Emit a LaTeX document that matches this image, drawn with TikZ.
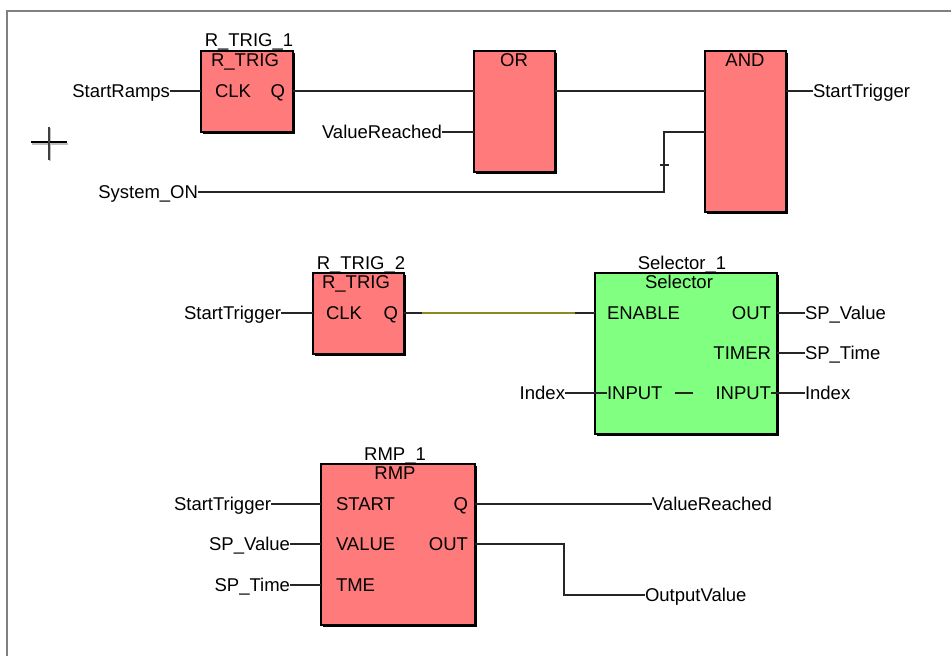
\documentclass[tikz,border=0pt]{standalone}
\usepackage{fontspec}
\setmainfont{Liberation Sans}
\usetikzlibrary{shadows}
\definecolor{fbred}{HTML}{FF7A7A}
\definecolor{fbgreen}{HTML}{80FF80}
\definecolor{frameg}{HTML}{808080}
\definecolor{olivew}{HTML}{8A8A20}
\tikzset{
  fbbase/.style={draw=black,line width=1.6pt,anchor=north west,inner sep=0pt,outer sep=0pt,
    drop shadow={shadow xshift=2.2pt,shadow yshift=-2.2pt,fill=black,opacity=1}},
  fbred/.style={fbbase,fill=fbred},
  fbgreen/.style={fbbase,fill=fbgreen},
  txt/.style={inner sep=0pt,outer sep=0pt,font=\fontsize{18.5}{20}\selectfont,text height=12.5pt,text depth=0pt},
  lblr/.style={txt,anchor=east},
  lbll/.style={txt,anchor=west},
  lblc/.style={txt,anchor=center},
  wire/.style={draw=black!85,line width=1.4pt},
}
\begin{document}
\begin{tikzpicture}[x=1pt,y=-1pt]
\useasboundingbox (0,0) rectangle (951,656);
\fill[white] (0,0) rectangle (951,656);
% window frame
\coordinate (fa) at (7,656); \coordinate (fb) at (7,11); \coordinate (fc) at (951,11);
\draw[frameg,line width=1.6pt] (fa) -- (fb) -- (fc);
% cursor cross
\coordinate (ca) at (31,142); \coordinate (cb) at (67,142);
\coordinate (cc) at (49,127); \coordinate (cd) at (49,160);
\draw[black!25,line width=1.6pt] (32,144) -- (68,144) (50,128) -- (50,161);
\draw[black,line width=2.4pt] (ca) -- (cb);
\draw[black!75,line width=1.6pt] (cc) -- (cd);
% blocks
\node[fbred,minimum width=92pt,minimum height=81pt] (rt1) at (201,51) {};
\node[fbred,minimum width=81pt,minimum height=121pt] (or) at (474,51) {};
\node[fbred,minimum width=81pt,minimum height=161pt] (and) at (705,51) {};
\node[fbred,minimum width=91pt,minimum height=81pt] (rt2) at (313,273) {};
\node[fbgreen,minimum width=182pt,minimum height=161pt] (sel) at (595,273) {};
\node[fbred,minimum width=154pt,minimum height=161pt] (rmp) at (321,464) {};
% instance names
\node[lblc] (n1) at (249,40) {R\_TRIG\_1};
\node[lblc] (n2) at (361,263) {R\_TRIG\_2};
\node[lblc] (n3) at (682,263) {Selector\_1};
\node[lblc] (n4) at (395,454) {RMP\_1};
% type names
\node[lblc] (t1) at (245,60) {R\_TRIG};
\node[lblc] (t2) at (514,60) {OR};
\node[lblc] (t3) at (745,60) {AND};
\node[lblc] (t4) at (356,282) {R\_TRIG};
\node[lblc] (t5) at (679,282) {Selector};
\node[lblc] (t6) at (395,473) {RMP};
% pins
\node[lbll] (clk1) at (215,91) {CLK};
\node[lblr] (q1) at (285,91) {Q};
\node[lbll] (clk2) at (326,313) {CLK};
\node[lblr] (q2) at (398,313) {Q};
\node[lbll] (en) at (607,313) {ENABLE};
\node[lblr] (outs) at (771,313) {OUT};
\node[lblr] (tim) at (771,353) {TIMER};
\node[lbll] (ini) at (607,393) {INPUT};
\node[lblr] (ino) at (771,393) {INPUT};
\node[lbll] (start) at (336,504) {START};
\node[lblr] (qr) at (468,504) {Q};
\node[lbll] (val) at (336,544) {VALUE};
\node[lblr] (outr) at (468,544) {OUT};
\node[lbll] (tme) at (336,585) {TME};
\coordinate (dl) at (675,393); \coordinate (dr) at (693,393);
\draw[wire] (dl) -- (dr);
% variables
\node[lblr] (v1) at (170,91) {StartRamps};
\node[lblr] (v2) at (442,132) {ValueReached};
\node[lblr] (v3) at (198,192) {System\_ON};
\node[lbll] (v4) at (813,91) {StartTrigger};
\node[lblr] (v5) at (281,313) {StartTrigger};
\node[lblr] (v6) at (565,393) {Index};
\node[lbll] (v7) at (805,313) {SP\_Value};
\node[lbll] (v8) at (805,353) {SP\_Time};
\node[lbll] (v9) at (805,393) {Index};
\node[lblr] (v10) at (271,504) {StartTrigger};
\node[lblr] (v11) at (290,544) {SP\_Value};
\node[lblr] (v12) at (290,585) {SP\_Time};
\node[lbll] (v13) at (652,504) {ValueReached};
\node[lbll] (v14) at (645,595) {OutputValue};
% wires, first network
\draw[wire] (v1.east) -- (rt1.west |- v1.east);
\draw[wire] (rt1.east |- q1) -- (or.west |- q1);
\draw[wire] (v2.east) -- (or.west |- v2.east);
\draw[wire] (or.east |- q1) -- (and.west |- q1);
\coordinate (bend) at (664,192);
\coordinate (tl) at (660,165); \coordinate (tr) at (669,165);
\draw[wire] (v3.east) -- (bend) -- (bend |- v2.east) -- (and.west |- v2.east);
\draw[wire] (tl) -- (tr);
\draw[wire] (and.east |- v4.west) -- (v4.west);
% wires, second network
\draw[wire] (v5.east) -- (rt2.west |- v5.east);
\coordinate (ol) at (422,313); \coordinate (or2) at (575,313);
\draw[wire] (rt2.east |- q2) -- (sel.west |- q2);
\draw[olivew,line width=1.4pt] (ol) -- (or2);
\draw[wire] (v6.east) -- (ini.west);
\draw[wire] (sel.east |- v7.west) -- (v7.west);
\draw[wire] (sel.east |- v8.west) -- (v8.west);
\draw[wire] (ino.east) -- (v9.west);
% wires, third network
\draw[wire] (v10.east) -- (rmp.west |- v10.east);
\draw[wire] (v11.east) -- (rmp.west |- v11.east);
\draw[wire] (v12.east) -- (rmp.west |- v12.east);
\coordinate (rb) at (564,544);
\draw[wire] (rmp.east |- qr) -- (v13.west);
\draw[wire] (rmp.east |- outr) -- (rb) -- (rb |- v14.west) -- (v14.west);
\end{tikzpicture}
\end{document}
